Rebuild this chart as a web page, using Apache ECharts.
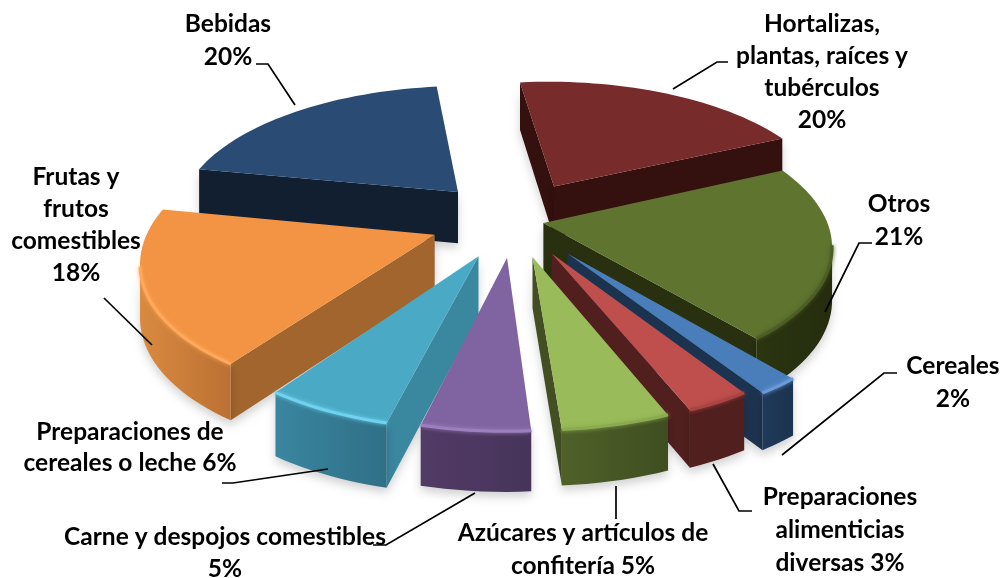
<!DOCTYPE html>
<html>
<head>
<meta charset="utf-8">
<style>
  html, body { margin: 0; padding: 0; background: #fff; }
  #chart { width: 1006px; height: 578px; }
</style>
<script src="https://cdn.jsdelivr.net/npm/echarts@6/dist/echarts.min.js"></script>
</head>
<body>
<div id="chart"></div>
<script>
  // pie order, clockwise from the top
  const categories = [
    'Hortalizas, plantas, raíces y tubérculos',
    'Otros',
    'Cereales',
    'Preparaciones alimenticias diversas',
    'Azúcares y artículos de confitería',
    'Carne y despojos comestibles',
    'Preparaciones de cereales o leche',
    'Frutas y frutos comestibles',
    'Bebidas',
  ]
  // labels show them rounded
  const shares = [20, 20.8, 2, 3, 5, 5, 5.9, 18.3, 20]

  // styles per slice
  const topColors = ['#772B2A', '#5F742F', '#4A7EBB', '#BE4F4C', '#9ABB59', '#8064A2', '#4AA9C4', '#F29443', '#2A4B74']
  const sideColors = ['#34100F', '#28300F', '#1C334F', '#501F1E', '#434F22', '#403152', '#3A87A0', '#A1652D', '#111F30']
  const wallLeft = ['#34100F', '#2B3510', '#1F3A5A', '#501F1E', '#4F6129', '#523B66', '#3A85A0', '#D98A40', '#111F30']
  const wallRight = ['#34100F', '#252D0E', '#1C334F', '#501F1E', '#3F4E20', '#46345A', '#2F7086', '#BC7133', '#111F30']
  const bevelColors = ['#772B2A', '#4C5D26', '#6A9BD6', '#A84543', '#8CAA50', '#9C80BE', '#6FD2EE', '#FFA95C', '#2A4B74']
  const explode = [86, 30, 86, 78, 78, 78, 82, 84, 85]
  const thickness = [52, 52, 52, 52, 50, 54, 58, 52, 52]

  // projection of the pie plane
  const centerX = 514
  const centerY = 220
  const radius = 283
  const viewDist = 1750
  const tilt = 0.465
  const startAngle = -7

  function project(x, y, h) {
    const s = viewDist / (viewDist - y)
    return [centerX + x * s, centerY + tilt * y * s + h * Math.sqrt(s)]
  }

  function area(pts) {
    let sum = 0
    pts.forEach((p, i) => {
      const q = pts[(i + 1) % pts.length]
      sum += p[0] * q[1] - q[0] * p[1]
    })
    return sum / 2
  }

  const total = shares.reduce((a, b) => a + b, 0)
  let running = startAngle
  const slices = shares.map((v, i) => {
    const from = running
    const to = from + (v / total) * 360
    running = to
    const mid = ((from + to) / 2) * Math.PI / 180
    return {
      index: i,
      from,
      to,
      ox: explode[i] * Math.sin(mid),
      oy: -explode[i] * Math.cos(mid),
    }
  })
  // back slices first so the front ones cover them
  const drawOrder = slices.slice().sort((a, b) => a.oy - b.oy)

  function renderSlice(params, api) {
    const sl = slices[api.value(0)]
    const i = sl.index
    const steps = Math.max(6, Math.round((sl.to - sl.from) / 2))
    const rimTop = []
    const rimBottom = []
    for (let k = 0; k <= steps; k++) {
      const a = (sl.from + ((sl.to - sl.from) * k) / steps) * Math.PI / 180
      const x = sl.ox + radius * Math.sin(a)
      const y = sl.oy - radius * Math.cos(a)
      rimTop.push(project(x, y, 0))
      rimBottom.push(project(x, y, thickness[i]))
    }
    const apexTop = project(sl.ox, sl.oy, 0)
    const apexBottom = project(sl.ox, sl.oy, thickness[i])
    const children = []
    const shadow = { shadowColor: 'rgba(0,0,0,0.18)', shadowBlur: 10, shadowOffsetY: 5 }

    // radial walls, only the ones facing the viewer
    const startWall = [apexTop, rimTop[0], rimBottom[0], apexBottom]
    const endWall = [rimTop[steps], apexTop, apexBottom, rimBottom[steps]]
    ;[startWall, endWall].forEach((pts) => {
      if (area(pts) < 0) {
        children.push({
          type: 'polygon',
          shape: { points: pts },
          style: Object.assign({ fill: sideColors[i] }, shadow),
        })
      }
    })

    // outer curved wall
    const frontTop = []
    const frontBottom = []
    for (let k = 0; k < steps; k++) {
      const quad = [rimTop[k], rimTop[k + 1], rimBottom[k + 1], rimBottom[k]]
      if (area(quad) < 0) {
        if (!frontTop.length) {
          frontTop.push(rimTop[k])
          frontBottom.push(rimBottom[k])
        }
        frontTop.push(rimTop[k + 1])
        frontBottom.push(rimBottom[k + 1])
      }
    }
    if (frontTop.length) {
      children.push({
        type: 'polygon',
        shape: { points: frontTop.concat(frontBottom.slice().reverse()) },
        style: Object.assign({
          fill: new echarts.graphic.LinearGradient(0, 0, 1, 0, [
            { offset: 0, color: wallLeft[i] },
            { offset: 1, color: wallRight[i] },
          ]),
        }, shadow),
      })
    }

    // top face
    children.push({
      type: 'polygon',
      shape: { points: [apexTop].concat(rimTop) },
      style: { fill: topColors[i] },
    })

    // rim highlight
    if (frontTop.length) {
      children.push({
        type: 'polyline',
        shape: { points: frontTop },
        style: {
          fill: 'none',
          stroke: bevelColors[i],
          lineWidth: 3,
          lineJoin: 'round',
          shadowColor: bevelColors[i],
          shadowBlur: 4,
        },
      })
    }
    return { type: 'group', children }
  }

  const pct = shares.map((v) => Math.round(v) + '%')
  // wrapped label text
  const labelLines = [
    ['Hortalizas,', 'plantas, raíces y', 'tubérculos', pct[0]],
    ['Otros', pct[1]],
    ['Cereales', pct[2]],
    ['Preparaciones', 'alimenticias', 'diversas ' + pct[3]],
    ['Azúcares y artículos de', 'confitería ' + pct[4]],
    ['Carne y despojos comestibles', pct[5]],
    ['Preparaciones de', 'cereales o leche ' + pct[6]],
    ['Frutas y', 'frutos', 'comestibles', pct[7]],
    ['Bebidas', pct[8]],
  ]
  const labelPos = [
    [822, 24, 32], [899, 204, 33], [953, 366, 33], [840, 497, 33], [583, 533, 33],
    [225, 537, 32], [130, 432, 31], [76, 177, 32], [228, 24, 33],
  ]
  const leaderLines = [
    [[728, 62], [717, 62], [673, 89]],
    [[872, 243], [859, 243], [825, 312]],
    [[897, 373], [884, 373], [782, 455]],
    [[752, 511], [739, 511], [713, 464]],
    [[616, 519], [616, 486]],
    [[373, 545], [386, 545], [475, 493]],
    [[222, 483], [233, 483], [328, 469]],
    [[104, 298], [152, 345]],
    [[256, 64], [268, 64], [295, 105]],
  ]

  const graphics = []
  leaderLines.forEach((pts) => {
    graphics.push({
      type: 'polyline',
      z: 10,
      shape: { points: pts },
      style: { fill: 'none', stroke: '#000', lineWidth: 1.7 },
    })
  })
  labelLines.forEach((lines, i) => {
    lines.forEach((text, k) => {
      graphics.push({
        type: 'text',
        z: 11,
        x: labelPos[i][0],
        y: labelPos[i][1] + k * labelPos[i][2],
        style: {
          text,
          fill: '#000',
          font: 'bold 24.5px Lato, "Open Sans", sans-serif',
          textAlign: 'center',
          textVerticalAlign: 'middle',
        },
      })
    })
  })

  const chart = echarts.init(document.getElementById('chart'))
  chart.setOption({
    animation: false,
    backgroundColor: '#fff',
    graphic: graphics,
    series: [
      {
        type: 'custom',
        coordinateSystem: 'none',
        renderItem: renderSlice,
        data: drawOrder.map((s) => [s.index, shares[s.index]]),
      },
    ],
  })
</script>
</body>
</html>
